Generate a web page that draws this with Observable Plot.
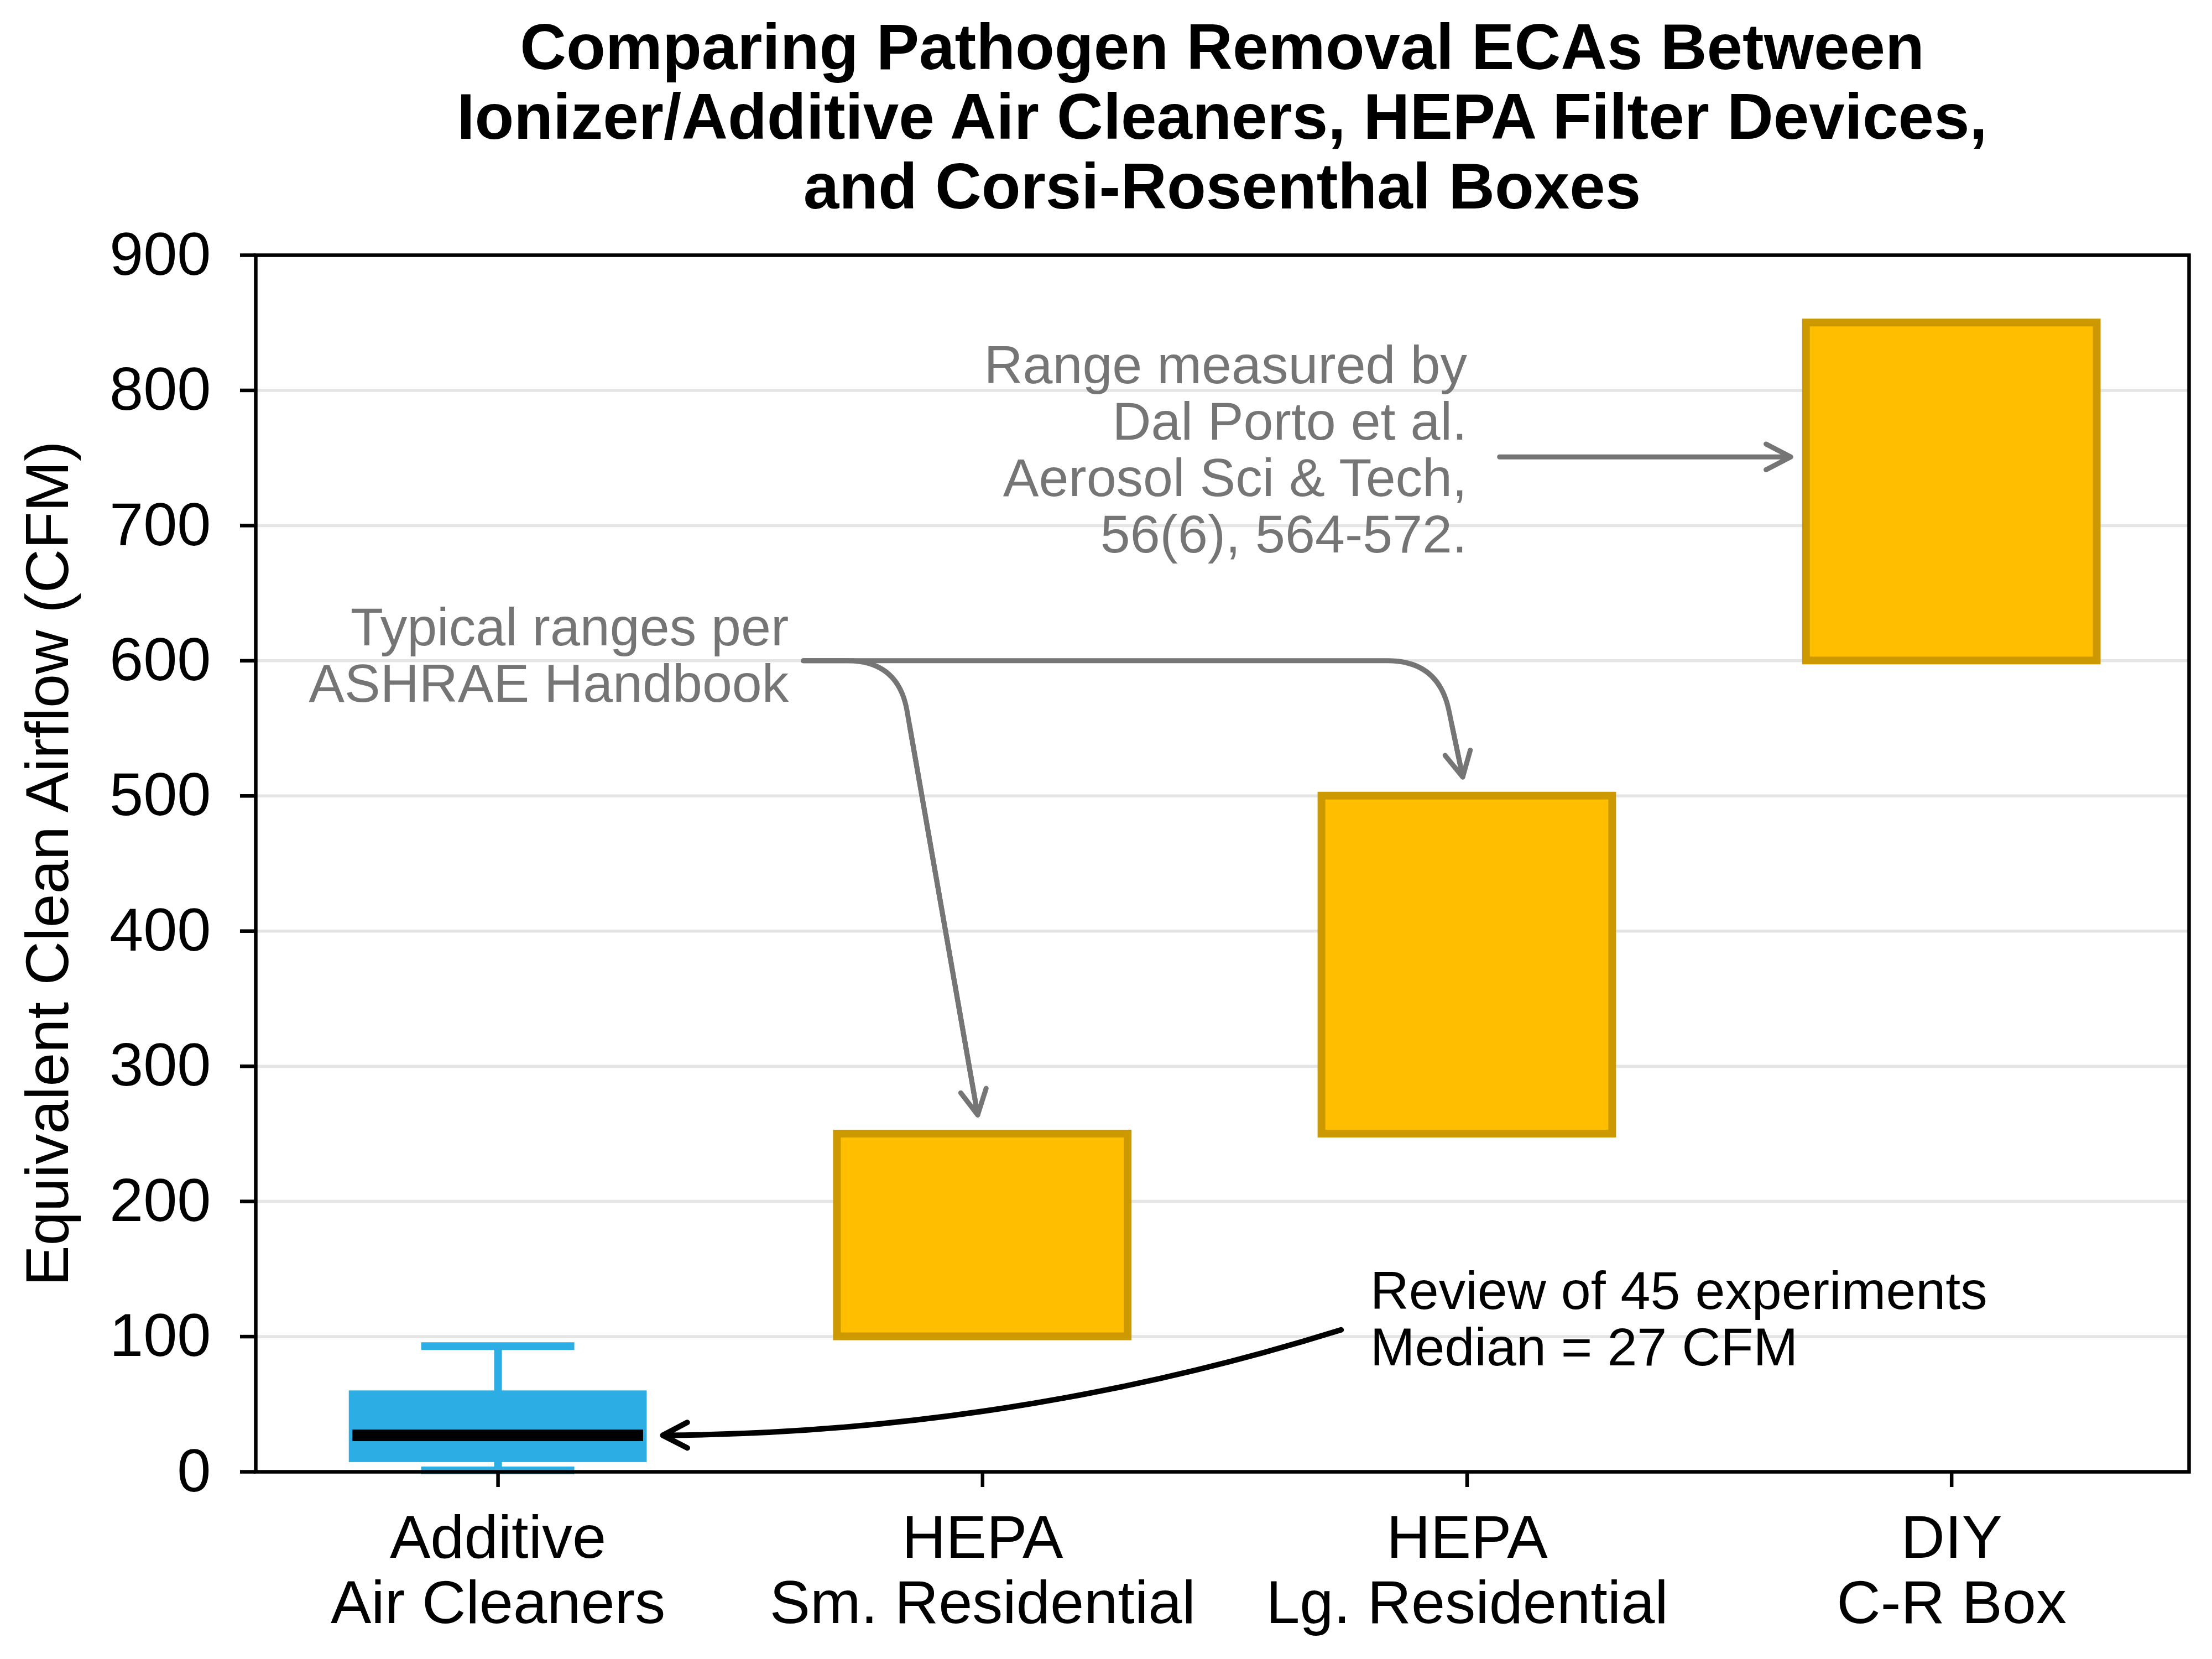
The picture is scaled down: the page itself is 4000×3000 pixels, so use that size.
<!DOCTYPE html>
<html>
<head>
<meta charset="utf-8">
<script src="https://cdn.jsdelivr.net/npm/d3@7"></script>
<script src="https://cdn.jsdelivr.net/npm/@observablehq/plot@0.6"></script>
<style>
  html, body { margin: 0; padding: 0; background: #ffffff; }
  #wrap { width: 4000px; height: 3000px; position: relative; background: #ffffff; }
  #title {
    box-sizing: border-box; width: 4000px; height: 400px;
    padding: 22px 0 0 420px; text-align: center;
    font-family: "Liberation Sans", Arial, sans-serif; font-weight: bold;
    font-size: 116px; line-height: 126px; color: #000;
  }
</style>
</head>
<body>
<div id="wrap">
  <div id="title">
    <div>Comparing Pathogen Removal ECAs Between</div>
    <div>Ionizer/Additive Air Cleaners, HEPA Filter Devices,</div>
    <div>and Corsi-Rosenthal Boxes</div>
  </div>
  <div id="chart"></div>
</div>
<script>
// ---- data ----
const categories = ["Additive\nAir Cleaners", "HEPA\nSm. Residential", "HEPA\nLg. Residential", "DIY\nC-R Box"];
const rangeCategories = ["HEPA\nSm. Residential", "HEPA\nLg. Residential", "DIY\nC-R Box"];
const rangeLow = [100, 250, 600];
const rangeHigh = [250, 500, 850];
// additive air cleaners box plot: whisker low, Q1, median, Q3, whisker high
const additiveBox = [1, 7, 27, 60, 93];
const yTicks = [0, 100, 200, 300, 400, 500, 600, 700, 800, 900];
const gridTicks = [100, 200, 300, 400, 500, 600, 700, 800];

const ashraeText = "Typical ranges per\nASHRAE Handbook";
const dalPortoText = "Range measured by\nDal Porto et al.\nAerosol Sci & Tech,\n56(6), 564-572.";
const reviewText = "Review of 45 experiments\nMedian = 27 CFM";

// ---- helpers ----
const idx = c => categories.indexOf(c);
const half = 0.3, capHalf = 0.15;
const blue = "#2CADE4", amber = "#FFBF00", amberEdge = "#CC9A00", grey = "#757575";

const bars = rangeCategories.map((c, k) => ({i: idx(c), lo: rangeLow[k], hi: rangeHigh[k]}));
const box = {i: idx("Additive\nAir Cleaners"), wlo: additiveBox[0], q1: additiveBox[1], med: additiveBox[2], q3: additiveBox[3], whi: additiveBox[4]};

// annotation anchors (data space)
const ashraeStart = {x: 0.63, y: 600};
const ashraeTargets = [
  {cx: 0.826, x: 0.99, y: 264},
  {cx: 1.941, x: 1.991, y: 514}
];
const ashraePaths = ashraeTargets.flatMap((t, g) => [
  {g, x: ashraeStart.x, y: ashraeStart.y},
  {g, x: t.cx, y: ashraeStart.y},
  {g, x: t.x, y: t.y}
]);
const ashraeHeads = ashraeTargets.map(t => ({x1: t.cx, y1: ashraeStart.y, x2: t.x, y2: t.y}));

// matplotlib-like "angle" connection: straight, rounded corner, straight
function angleCurve(rad) {
  return function(context) {
    let pts = [];
    return {
      areaStart() {}, areaEnd() {},
      lineStart() { pts = []; },
      point(x, y) { pts.push([+x, +y]); },
      lineEnd() {
        if (pts.length < 3) return;
        const [a, c, b] = pts;
        const d1 = Math.hypot(c[0] - a[0], c[1] - a[1]);
        const d2 = Math.hypot(b[0] - c[0], b[1] - c[1]);
        const p1 = [c[0] - (c[0] - a[0]) / d1 * rad, c[1] - (c[1] - a[1]) / d1 * rad];
        const p2 = [c[0] + (b[0] - c[0]) / d2 * rad, c[1] + (b[1] - c[1]) / d2 * rad];
        context.moveTo(a[0], a[1]);
        context.lineTo(p1[0], p1[1]);
        context.quadraticCurveTo(c[0], c[1], p2[0], p2[1]);
        context.lineTo(b[0], b[1]);
      }
    };
  };
}

const chart = Plot.plot({
  width: 4000,
  height: 2600,
  marginLeft: 462,
  marginRight: 42,
  marginTop: 61,
  marginBottom: 339,
  style: {fontFamily: "'Liberation Sans', Arial, sans-serif", fontSize: "110px", background: "#ffffff", color: "#000000", overflow: "visible"},
  x: {type: "linear", domain: [-0.5, 3.49]},
  y: {type: "linear", domain: [0, 900]},
  marks: [
    Plot.gridY(gridTicks, {stroke: "#e5e5e5", strokeOpacity: 1, strokeWidth: 5.5}),
    Plot.rectY(bars, {x1: d => d.i - half, x2: d => d.i + half, y1: "lo", y2: "hi", fill: amber, stroke: amberEdge, strokeWidth: 14}),
    Plot.ruleX([box], {x: "i", y1: "wlo", y2: "whi", stroke: blue, strokeWidth: 14}),
    Plot.ruleY([box.wlo, box.whi], {y: d => d, x1: () => box.i - capHalf, x2: () => box.i + capHalf, stroke: blue, strokeWidth: 14, strokeLinecap: "square"}),
    Plot.rectY([box], {x1: d => d.i - half, x2: d => d.i + half, y1: "q1", y2: "q3", fill: blue, insetLeft: -6.5, insetRight: -6.5}),
    Plot.ruleY([box], {y: "med", x1: d => d.i - half, x2: d => d.i + half, stroke: "#000000", strokeWidth: 21, strokeLinecap: "butt"}),

    // annotations
    Plot.line(ashraePaths, {x: "x", y: "y", z: "g", stroke: grey, strokeWidth: 9, curve: angleCurve(92), strokeLinecap: "round"}),
    Plot.arrow(ashraeHeads, {x1: "x1", y1: "y1", x2: "x2", y2: "y2", stroke: grey, strokeWidth: 9, headLength: 8.4, headAngle: 55, insetStart: 120, strokeLinecap: "round", strokeLinejoin: "round"}),
    Plot.arrow([{x1: 2.067, y1: 750.8, x2: 2.668, y2: 750.8}], {x1: "x1", y1: "y1", x2: "x2", y2: "y2", stroke: grey, strokeWidth: 9, headLength: 8.4, headAngle: 55, strokeLinecap: "round", strokeLinejoin: "round"}),
    Plot.arrow([{x1: 1.74, y1: 105, x2: 0.34, y2: 27}], {x1: "x1", y1: "y1", x2: "x2", y2: "y2", bend: 8.5, stroke: "#000000", strokeWidth: 10, headLength: 7.5, headAngle: 55, strokeLinecap: "round", strokeLinejoin: "round"}),

    Plot.text([ashraeText], {x: () => 0.6, y: () => 604, text: d => d, textAnchor: "end", fill: grey, fontSize: 97, lineHeight: 1.05}),
    Plot.text([dalPortoText], {x: () => 2.0, y: () => 756, text: d => d, textAnchor: "end", fill: grey, fontSize: 97, lineHeight: 1.05}),
    Plot.text([reviewText], {x: () => 1.8, y: () => 113, text: d => d, textAnchor: "start", fill: "#000000", fontSize: 97, lineHeight: 1.05}),

    Plot.frame({stroke: "#000000", strokeWidth: 6.5}),
    Plot.axisY({ticks: yTicks, tickSize: 28, tickPadding: 53, strokeWidth: 6.5, label: null, tickFormat: d => String(d)}),
    Plot.axisX({ticks: [0, 1, 2, 3], tickFormat: i => categories[i], tickSize: 28, tickPadding: 44, strokeWidth: 6.5, lineHeight: 1.07, label: null}),
    Plot.text(["Equivalent Clean Airflow (CFM)"], {frameAnchor: "left", rotate: -90, dx: -340, lineAnchor: "bottom", textAnchor: "middle", text: d => d, fontSize: 110, fill: "#000000"})
  ]
});
document.getElementById("chart").appendChild(chart);
</script>
</body>
</html>
